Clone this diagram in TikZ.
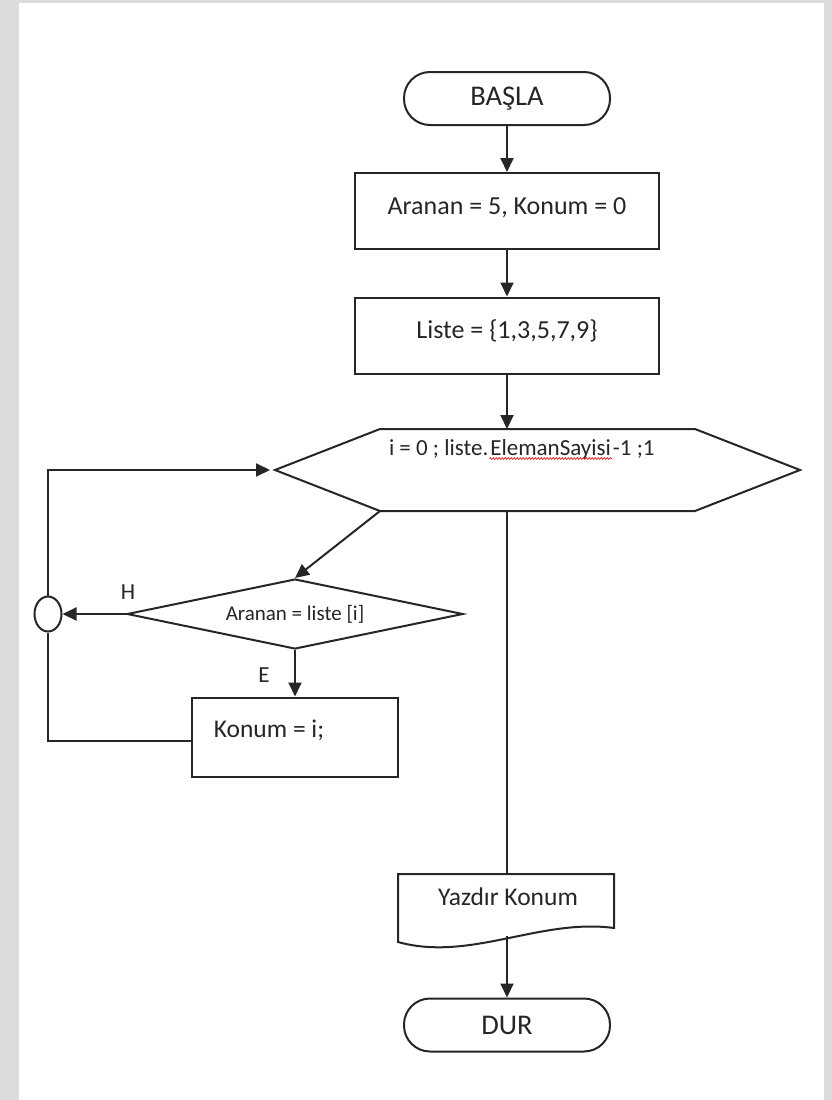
\documentclass[tikz,border=0pt]{standalone}
\usepackage{fontspec}
\setmainfont{Carlito}
\usetikzlibrary{arrows.meta,shapes.geometric,decorations.pathmorphing}
\definecolor{frame}{HTML}{DCDCDC}
\definecolor{ink}{HTML}{262626}
\definecolor{txt}{HTML}{262626}
\begin{document}
\begin{tikzpicture}[x=1pt,y=-1pt,
  line width=2pt,
  every node/.style={text=txt, inner sep=0pt},
  term/.style={draw=ink, rounded corners=26pt, minimum width=206pt,
               minimum height=53pt, font=\fontsize{28.5}{30}\selectfont},
  procbox/.style={draw=ink, minimum width=304pt, minimum height=76pt,
               text height=19pt, text depth=13pt, font=\fontsize{26}{28}\selectfont},
  bodytext/.style={font=\fontsize{25.5}{28}\selectfont},
  hextext/.style={font=\fontsize{23}{25}\selectfont, anchor=base west},
  arr/.style={draw=ink, -{Triangle[length=14pt,width=13pt]}},
  link/.style={draw=ink},
  lbl/.style={font=\fontsize{23}{25}\selectfont}
]
% page frame
\fill[frame] (0,0) rectangle (832,1100);
\fill[white] (19,3) rectangle (824,1100);
\useasboundingbox (0,0) rectangle (832,1100);

% start / process boxes
\node[term] (start) at (507,98.5) {BAŞLA};
\node[procbox] (init) at (507,211) {Aranan = 5, Konum = 0};
\node[procbox] (list) at (507,335.5) {Liste = \{1,3,5,7,9\}};

% loop hexagon
\coordinate (hexL) at (275,470);
\coordinate (hexTL) at (380,429);
\coordinate (hexTR) at (695,429);
\coordinate (hexR) at (800,470);
\coordinate (hexBR) at (695,511);
\coordinate (hexBL) at (380,511);
\coordinate (hexT) at (507,429);
\coordinate (hexB) at (507,511);
\draw[ink] (hexL) -- (hexTL) -- (hexTR) -- (hexR) -- (hexBR) -- (hexBL) -- cycle;
\node[hextext] (hexa) at (388,455) {i = 0 ; liste.};
\node[hextext] (hexb) at (hexa.base east) {ElemanSayisi};
\node[hextext] (hexc) at (hexb.base east) {-1 ;1};
\draw[red!85!black, line width=0.6pt, decorate,
      decoration={snake, amplitude=0.9pt, segment length=3pt}]
  ([yshift=-3.5pt]hexb.base west) -- ([yshift=-3.5pt]hexb.base east);

% decision
\node[draw=ink, diamond, aspect=4.8, minimum width=336pt, minimum height=70pt,
      font=\fontsize{21}{23}\selectfont] (dec) at (295,614) {Aranan = liste [i]};
\node[draw=ink, ellipse, minimum width=27pt, minimum height=35pt] (jn) at (48,614) {};
\node[lbl] (hlab) at (128,592) {H};
\node[lbl] (elab) at (264,675) {E};

% assignment
\node[draw=ink, minimum width=206pt, minimum height=79pt] (konum) at (295,737) {};
\node[bodytext] (konumt) at (269,730) {Konum = i;};

% output (document shape)
\coordinate (outT) at (507,874);
\coordinate (outB) at (507,936);
\draw[ink] (398,874) -- (614,874) -- (614,928)
  .. controls (540,918) and (470,962) .. (398,942) -- cycle;
\node[bodytext] (outt) at (508,897) {Yazdır Konum};

% stop
\node[term] (stop) at (507,1025) {DUR};

% connectors
\draw[arr] (start) -- (init);
\draw[arr] (init) -- (list);
\draw[arr] (list) -- (hexT);
\draw[arr] (hexBL) -- (dec.north);
\draw[link] (hexB) -- (outT);
\draw[arr] (dec.west) -- (jn.east);
\draw[arr] (dec.south) -- (konum.north);
\draw[link] ([yshift=-4pt]konum.west) -| (jn.south);
\draw[arr, shorten >=5pt] (jn.north) |- (hexL);
\draw[arr] (outB) -- (stop);
\end{tikzpicture}
\end{document}
